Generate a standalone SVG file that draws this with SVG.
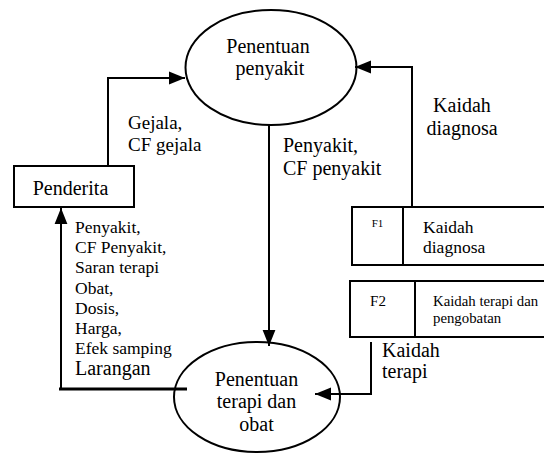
<svg xmlns="http://www.w3.org/2000/svg" width="544" height="454" viewBox="0 0 544 454" font-family="'Liberation Serif', 'Times New Roman', serif">
<defs>
<marker id="ahL" viewBox="0 0 10 10" refX="10" refY="5" markerWidth="16" markerHeight="16" markerUnits="userSpaceOnUse" orient="auto">
<path d="M0,1 L10,5 L0,9 z" fill="#000"/>
</marker>
</defs>
<style>
text{font-family:"Liberation Serif","Times New Roman",serif;fill:#000}
.n{fill:#fff;stroke:#000;stroke-width:2}
.c{fill:none;stroke:#000;stroke-width:2}
.s20{font-size:20px}
.s19{font-size:19px}
.s17{font-size:17.5px}
.s15{font-size:14.8px}
</style>
<rect width="544" height="454" fill="#fff"/>
<g id="penentuan-penyakit">
<ellipse class="n" cx="271" cy="67.5" rx="85.5" ry="57.5"/>
<text class="s20" x="268" y="53" text-anchor="middle">Penentuan</text>
<text class="s20" x="270" y="75" text-anchor="middle">penyakit</text>
</g>
<g id="penderita">
<rect class="n" x="14" y="166" width="120" height="41"/>
<text class="s20" x="70.5" y="195" text-anchor="middle">Penderita</text>
</g>
<g id="penentuan-terapi">
<ellipse class="n" cx="257" cy="397" rx="83" ry="55"/>
<text class="s20" x="256.5" y="386" text-anchor="middle">Penentuan</text>
<text class="s20" x="256.5" y="408" text-anchor="middle">terapi dan</text>
<text class="s20" x="256.5" y="431" text-anchor="middle">obat</text>
</g>
<g id="f1">
<rect class="n" x="352" y="207" width="196" height="58"/>
<line class="c" x1="403" y1="207" x2="403" y2="265"/>
<text x="377.5" y="227" style="font-size:11px" text-anchor="middle">F1</text>
<text class="s17" x="423" y="233">Kaidah</text>
<text class="s17" x="423" y="253">diagnosa</text>
</g>
<g id="f2">
<rect class="n" x="350" y="281" width="198" height="56"/>
<line class="c" x1="415" y1="281" x2="415" y2="337"/>
<text x="378" y="306" style="font-size:15px" text-anchor="middle">F2</text>
<text class="s15" x="433" y="306">Kaidah terapi dan</text>
<text class="s15" x="433" y="323">pengobatan</text>
</g>
<g id="connectors">
<polyline class="c" points="108,166 108,78 185,78" marker-end="url(#ahL)"/>
<polyline class="c" points="412,207 412,67 355,67" marker-end="url(#ahL)"/>
<polyline class="c" points="269,125 269,346" marker-end="url(#ahL)"/>
<polyline class="c" points="371,342 371,394 315,394" marker-end="url(#ahL)"/>
<line x1="59" y1="389" x2="187" y2="389" stroke="#000" stroke-width="3"/>
<polyline class="c" points="61,389 61,208" marker-end="url(#ahL)"/>
<text class="s19" x="128" y="129">Gejala,</text>
<text class="s19" x="128" y="151">CF gejala</text>
<text class="s20" x="283" y="152">Penyakit,</text>
<text class="s20" x="283" y="175">CF penyakit</text>
<text class="s20" x="462" y="112" text-anchor="middle">Kaidah</text>
<text class="s20" x="462" y="135" text-anchor="middle">diagnosa</text>
<text class="s17" x="75" y="233">Penyakit,</text>
<text class="s17" x="75" y="253">CF Penyakit,</text>
<text class="s17" x="75" y="273">Saran terapi</text>
<text class="s17" x="75" y="294">Obat,</text>
<text class="s17" x="75" y="314">Dosis,</text>
<text class="s17" x="75" y="334">Harga,</text>
<text class="s17" x="75" y="354">Efek samping</text>
<text class="s20" x="75" y="375">Larangan</text>
<text class="s20" x="382" y="357">Kaidah</text>
<text class="s20" x="382" y="378">terapi</text>
</g>
</svg>
